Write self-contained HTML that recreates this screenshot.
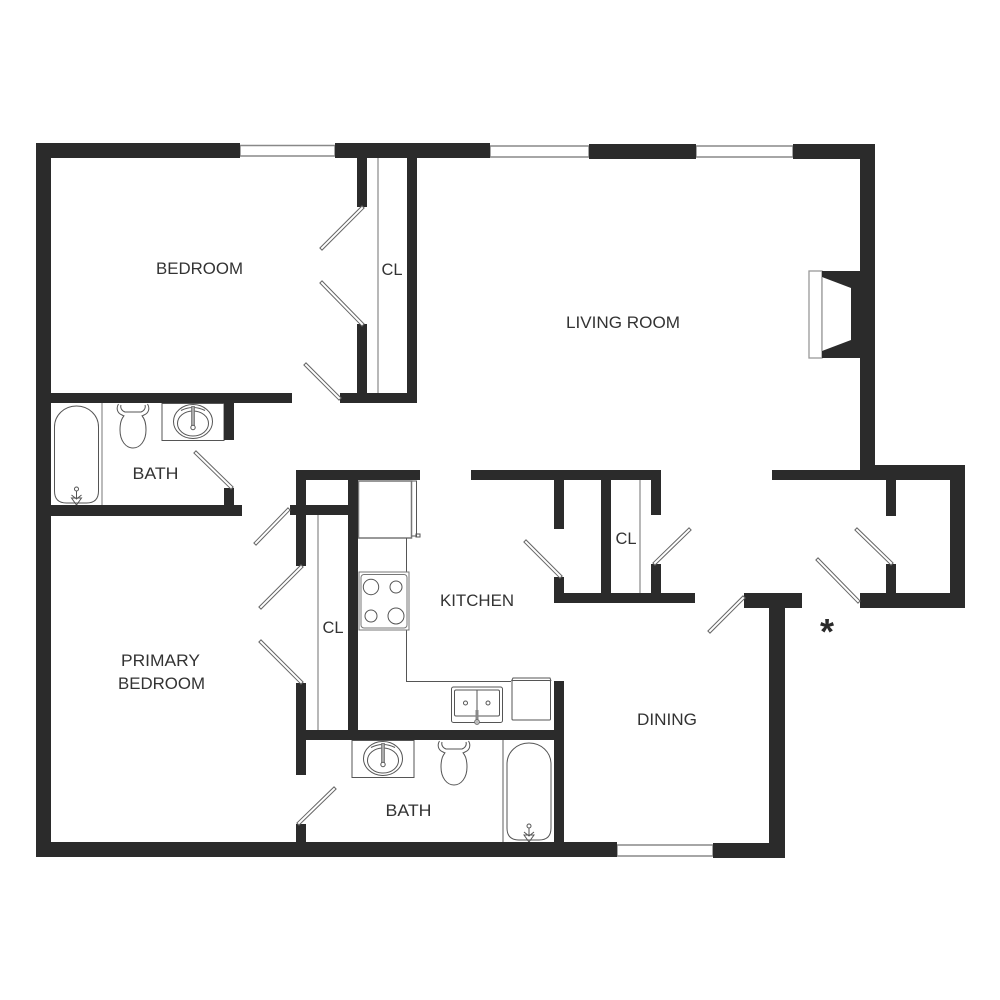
<!DOCTYPE html>
<html><head><meta charset="utf-8"><style>
html,body{margin:0;padding:0;background:#fff}
svg{display:block}
text{font-family:"Liberation Sans",sans-serif;font-size:17px;fill:#333}
.w rect{fill:#2b2b2b}
.f{fill:none;stroke:#555;stroke-width:1}
.d1{stroke:#666;stroke-width:4;stroke-linecap:square}
.d2{stroke:#fff;stroke-width:2;stroke-linecap:square}
.win{fill:#fff;stroke:#888;stroke-width:1.5}
</style></head><body>
<svg width="1000" height="1000" viewBox="0 0 1000 1000" xmlns="http://www.w3.org/2000/svg">
<defs>
<g id="sink">
<rect x="-31" y="-18" width="62" height="37" fill="none" stroke="#555"/>
<ellipse cx="0" cy="0" rx="19.500" ry="17" class="f"/>
<ellipse cx="0" cy="2" rx="15.500" ry="12.500" class="f"/>
<path d="M-12-11Q0-17 12-11" class="f"/>
<path d="M-1.500-15H1.500V4H-1.500Z" fill="#aaa" stroke="#666" stroke-width=".7"/>
<circle cx="0" cy="6" r="2.200" fill="#fff" stroke="#555"/>
</g>
<g id="toilet">
<path d="M-14.500 0C-17 4-16 9-11 11L-7 13H7L11 11C16 9 17 4 14.500 0" class="f"/>
<path d="M-12 1C-13 4-11 7-8 8H8C11 7 13 4 12 1" class="f"/>
<path d="M-9 12C-12 15-13 19-13 26C-13 37-7 44 0 44C7 44 13 37 13 26C13 19 12 15 9 12" fill="#fff" stroke="#555"/>
</g>
<g id="tub">
<path d="M0 85V21C0 9 10 0 22 0C34 0 44 9 44 21V85Q44 97 32 97H12Q0 97 0 85Z" class="f"/>
<circle cx="22" cy="83" r="2" fill="#fff" stroke="#555"/>
<path d="M22 85V93M17 89L22 93L27 89M17 92H27L22 99Z" class="f"/>
</g>
</defs>

<!-- windows -->
<rect class="win" x="240" y="145.500" width="95" height="10.500"/>
<rect class="win" x="490" y="146" width="99" height="11"/>
<rect class="win" x="696" y="146" width="97" height="11"/>
<rect class="win" x="617" y="845" width="96" height="11"/>

<!-- fixtures -->
<line x1="378" y1="158" x2="378" y2="393" stroke="#888" stroke-width="1.200"/>
<line x1="318" y1="515" x2="318" y2="730" stroke="#888" stroke-width="1.200"/>
<line x1="640" y1="480" x2="640" y2="593" stroke="#888" stroke-width="1.200"/>
<line x1="102" y1="403" x2="102" y2="505" stroke="#777"/>
<line x1="503" y1="740" x2="503" y2="842" stroke="#777" stroke-width="1.200"/>
<use href="#tub" x="54.500" y="406"/>
<use href="#tub" x="507" y="743"/>
<use href="#sink" x="193" y="421.500"/>
<use href="#sink" x="383" y="758.500"/>
<use href="#toilet" x="133" y="404"/>
<use href="#toilet" x="454" y="741"/>

<!-- kitchen -->
<rect x="358.500" y="481" width="53" height="57" fill="#fff" stroke="#777" stroke-width="1.500"/>
<path d="M412 481H416.500V536H412" class="f"/>
<rect x="416" y="534" width="4" height="3" class="f"/>
<path d="M406.500 538V572M406.500 630V681.500H511" class="f"/>
<rect x="359" y="572" width="50" height="58" fill="#fff" stroke="#777"/>
<rect x="361" y="574.500" width="46" height="53.500" rx="3" fill="#fff" stroke="#777"/>
<circle cx="371" cy="587" r="7.700" class="f"/>
<circle cx="396" cy="587" r="6" class="f"/>
<circle cx="371" cy="616" r="6" class="f"/>
<circle cx="396" cy="616" r="8" class="f"/>
<rect x="451.500" y="687" width="51" height="35.500" rx="2" class="f"/>
<rect x="454.500" y="690" width="45" height="26" rx="1.500" class="f"/>
<line x1="477" y1="690" x2="477" y2="716" stroke="#555"/>
<circle cx="465.500" cy="703" r="2" class="f"/>
<circle cx="488" cy="703" r="2" class="f"/>
<rect x="475.500" y="710" width="3" height="10" fill="#888"/>
<circle cx="477" cy="722" r="2.500" fill="#bbb" stroke="#666" stroke-width=".7"/>
<rect x="512" y="680.500" width="38.500" height="39.500" rx="1" class="f"/>
<path d="M511.500 681L513 678H550L551 681" class="f"/>

<!-- fireplace -->
<rect x="809" y="271" width="13" height="87" fill="#fff" stroke="#999" stroke-width="1.300"/>
<path fill="#2b2b2b" d="M822 271H862V358H822Z"/>
<path fill="#fff" d="M822 277L851 288V340L822 351Z"/>
<line x1="822" y1="277" x2="822" y2="351" stroke="#999" stroke-width="1.300"/>

<!-- walls -->
<g class="w">
<rect x="36" y="143" width="204" height="15"/>
<rect x="36" y="143" width="15" height="714"/>
<rect x="36" y="842" width="581" height="15"/>
<rect x="335" y="143" width="155" height="15"/>
<rect x="357" y="158" width="10" height="49"/>
<rect x="357" y="324" width="10" height="69"/>
<rect x="407" y="158" width="10" height="245"/>
<rect x="340" y="393" width="77" height="10"/>
<rect x="589" y="144" width="107" height="15"/>
<rect x="793" y="144" width="82" height="15"/>
<rect x="860" y="144" width="15" height="331"/>
<rect x="860" y="465" width="105" height="15"/>
<rect x="772" y="470" width="100" height="10"/>
<rect x="950" y="465" width="15" height="143"/>
<rect x="860" y="593" width="105" height="15"/>
<rect x="886" y="480" width="10" height="36"/>
<rect x="886" y="564" width="10" height="29"/>
<rect x="51" y="393" width="241" height="10"/>
<rect x="224" y="403" width="10" height="37"/>
<rect x="224" y="488" width="10" height="20"/>
<rect x="51" y="505" width="191" height="11"/>
<rect x="296" y="470" width="124" height="10"/>
<rect x="296" y="470" width="10" height="96"/>
<rect x="290" y="505" width="68" height="10"/>
<rect x="348" y="470" width="10" height="270"/>
<rect x="296" y="683" width="10" height="92"/>
<rect x="296" y="730" width="268" height="10"/>
<rect x="554" y="681" width="10" height="165"/>
<rect x="296" y="824" width="10" height="20"/>
<rect x="471" y="470" width="190" height="10"/>
<rect x="554" y="480" width="10" height="49"/>
<rect x="554" y="577" width="10" height="26"/>
<rect x="601" y="480" width="10" height="120"/>
<rect x="651" y="480" width="10" height="35"/>
<rect x="651" y="564" width="10" height="30"/>
<rect x="554" y="593" width="141" height="10"/>
<rect x="744" y="593" width="58" height="15"/>
<rect x="769" y="600" width="16" height="258"/>
<rect x="713" y="843" width="72" height="15"/>
</g>

<!-- doors -->
<g class="d1">
<line x1="362" y1="208" x2="322" y2="248"/>
<line x1="362" y1="324" x2="322" y2="283"/>
<line x1="339" y1="398" x2="306" y2="365"/>
<line x1="231" y1="487" x2="196" y2="453"/>
<line x1="288" y1="510" x2="256" y2="543"/>
<line x1="301" y1="567" x2="261" y2="607"/>
<line x1="301" y1="682" x2="261" y2="642"/>
<line x1="299" y1="823" x2="334" y2="789"/>
<line x1="560" y1="576" x2="526" y2="542"/>
<line x1="655" y1="563" x2="689" y2="530"/>
<line x1="743" y1="598" x2="710" y2="631"/>
<line x1="891" y1="563" x2="857" y2="530"/>
<line x1="858" y1="601" x2="818" y2="560"/>
</g>
<g class="d2">
<line x1="362" y1="208" x2="322" y2="248"/>
<line x1="362" y1="324" x2="322" y2="283"/>
<line x1="339" y1="398" x2="306" y2="365"/>
<line x1="231" y1="487" x2="196" y2="453"/>
<line x1="288" y1="510" x2="256" y2="543"/>
<line x1="301" y1="567" x2="261" y2="607"/>
<line x1="301" y1="682" x2="261" y2="642"/>
<line x1="299" y1="823" x2="334" y2="789"/>
<line x1="560" y1="576" x2="526" y2="542"/>
<line x1="655" y1="563" x2="689" y2="530"/>
<line x1="743" y1="598" x2="710" y2="631"/>
<line x1="891" y1="563" x2="857" y2="530"/>
<line x1="858" y1="601" x2="818" y2="560"/>
</g>

<!-- labels -->
<text x="156" y="274" textLength="87" lengthAdjust="spacingAndGlyphs">BEDROOM</text>
<text x="566" y="328" textLength="114" lengthAdjust="spacingAndGlyphs">LIVING ROOM</text>
<text x="132.500" y="479" textLength="46" lengthAdjust="spacingAndGlyphs">BATH</text>
<text x="385.500" y="816" textLength="46" lengthAdjust="spacingAndGlyphs">BATH</text>
<text x="381.500" y="275" textLength="21" lengthAdjust="spacingAndGlyphs">CL</text>
<text x="322.500" y="633" textLength="21" lengthAdjust="spacingAndGlyphs">CL</text>
<text x="615.500" y="544" textLength="21" lengthAdjust="spacingAndGlyphs">CL</text>
<text x="440" y="606" textLength="74" lengthAdjust="spacingAndGlyphs">KITCHEN</text>
<text x="121" y="666" textLength="79" lengthAdjust="spacingAndGlyphs">PRIMARY</text>
<text x="118" y="689" textLength="87" lengthAdjust="spacingAndGlyphs">BEDROOM</text>
<text x="637" y="725" textLength="60" lengthAdjust="spacingAndGlyphs">DINING</text>
<text x="820" y="644" style="font-size:36px;font-weight:bold;fill:#2b2b2b">*</text>
</svg>
</body></html>
